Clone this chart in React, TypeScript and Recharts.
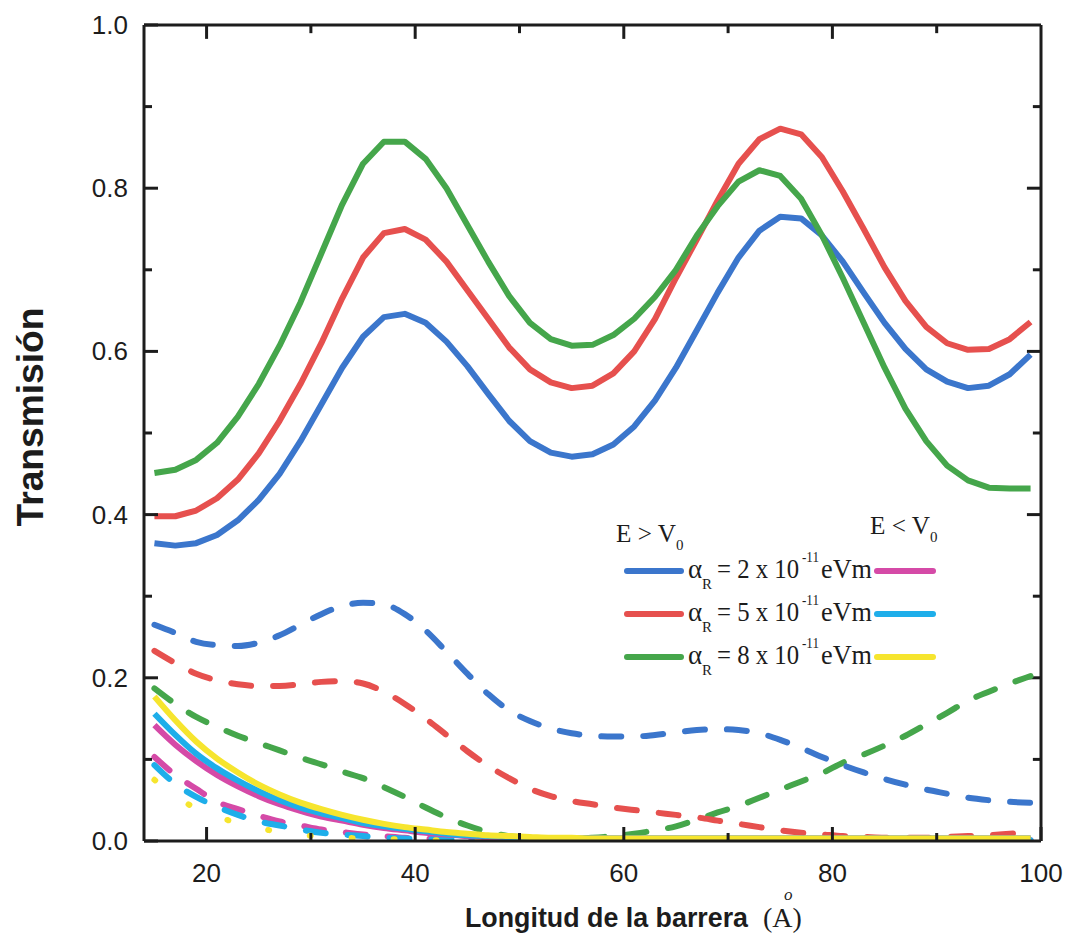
import React from "react";
import { LineChart, Line, XAxis, YAxis, ReferenceLine } from "recharts";

// barrier length (Å)
const lengths = [
  15, 17, 19, 21, 23, 25, 27, 29, 31, 33, 35, 37, 39, 41, 43, 45, 47, 49, 51, 53, 55, 57,
  59, 61, 63, 65, 67, 69, 71, 73, 75, 77, 79, 81, 83, 85, 87, 89, 91, 93, 95, 97, 99,
];

// E > V0, solid
const above2 = [
  0.365, 0.362, 0.365, 0.375, 0.393, 0.418, 0.45, 0.49, 0.535, 0.58, 0.618, 0.642, 0.646,
  0.635, 0.612, 0.582, 0.548, 0.515, 0.49, 0.476, 0.471, 0.474, 0.486, 0.508, 0.54, 0.58,
  0.626, 0.672, 0.715, 0.748, 0.765, 0.763, 0.742, 0.71, 0.672, 0.635, 0.603, 0.578, 0.563,
  0.555, 0.558, 0.572, 0.596,
];
const above5 = [
  0.398, 0.398, 0.405, 0.42, 0.443, 0.475, 0.515, 0.56, 0.61, 0.665, 0.715, 0.745, 0.75,
  0.737, 0.71, 0.675, 0.64, 0.605, 0.578, 0.562, 0.555, 0.558, 0.573, 0.6, 0.64, 0.69,
  0.737, 0.785, 0.83, 0.86, 0.873, 0.866, 0.838, 0.796, 0.75, 0.703, 0.662, 0.63, 0.61,
  0.602, 0.603, 0.615, 0.636,
];
const above8 = [
  0.451, 0.455, 0.467, 0.488, 0.52, 0.56, 0.607, 0.66, 0.72, 0.78, 0.83, 0.857, 0.857,
  0.836, 0.8, 0.755, 0.71, 0.668, 0.635, 0.615, 0.607, 0.608, 0.62, 0.64, 0.667, 0.7,
  0.742, 0.778, 0.808, 0.822, 0.815, 0.787, 0.742, 0.69, 0.635, 0.58, 0.53, 0.49, 0.46,
  0.442, 0.433, 0.432, 0.432,
];

// E > V0, dashed
const above2d = [
  0.265, 0.255, 0.244, 0.24, 0.239, 0.243, 0.252, 0.265, 0.278, 0.288, 0.292, 0.29, 0.278,
  0.258, 0.232, 0.205, 0.18, 0.16, 0.147, 0.138, 0.132, 0.129, 0.128, 0.128, 0.13, 0.133,
  0.136, 0.137, 0.136, 0.132, 0.124, 0.114, 0.103, 0.093, 0.084, 0.076, 0.069, 0.063,
  0.058, 0.053, 0.05, 0.048, 0.047,
];
const above5d = [
  0.233, 0.218, 0.205, 0.197, 0.192, 0.19, 0.19, 0.192, 0.195, 0.196, 0.193, 0.183, 0.168,
  0.15, 0.13, 0.11, 0.092, 0.077, 0.064, 0.055, 0.049, 0.045, 0.041, 0.038, 0.035, 0.032,
  0.029, 0.025, 0.021, 0.017, 0.013, 0.01, 0.008, 0.006, 0.005, 0.004, 0.004, 0.004, 0.005,
  0.006, 0.007, 0.009, 0.011,
];
const above8d = [
  0.187, 0.168, 0.152, 0.14, 0.129, 0.12, 0.111, 0.102, 0.094, 0.085, 0.077, 0.066, 0.054,
  0.041, 0.029, 0.019, 0.011, 0.006, 0.004, 0.003, 0.003, 0.004, 0.006, 0.009, 0.013, 0.018,
  0.026, 0.035, 0.043, 0.053, 0.063, 0.073, 0.083, 0.096, 0.106, 0.117, 0.129, 0.143, 0.157,
  0.172, 0.183, 0.193, 0.202,
];

// E < V0, solid
const below2 = [
  0.142, 0.118, 0.098, 0.081, 0.067, 0.055, 0.045, 0.037, 0.03, 0.025, 0.02, 0.016, 0.013,
  0.01, 0.008, 0.006, 0.005, 0.004, 0.003, 0.003, 0.003, 0.003, 0.003, 0.003, 0.003, 0.003,
  0.003, 0.003, 0.003, 0.003, 0.003, 0.003, 0.003, 0.003, 0.003, 0.003, 0.003, 0.003, 0.003,
  0.003, 0.003, 0.003, 0.003,
];
const below5 = [
  0.156, 0.13, 0.107, 0.089, 0.074, 0.061, 0.05, 0.041, 0.034, 0.028, 0.022, 0.018, 0.015,
  0.012, 0.009, 0.007, 0.006, 0.005, 0.004, 0.003, 0.003, 0.003, 0.003, 0.003, 0.003, 0.003,
  0.003, 0.003, 0.003, 0.003, 0.003, 0.003, 0.003, 0.003, 0.003, 0.003, 0.003, 0.003, 0.003,
  0.003, 0.003, 0.003, 0.003,
];
const below8 = [
  0.177, 0.148, 0.122, 0.101, 0.084, 0.069, 0.057, 0.047, 0.039, 0.032, 0.026, 0.021, 0.017,
  0.014, 0.011, 0.009, 0.007, 0.006, 0.005, 0.004, 0.004, 0.003, 0.003, 0.003, 0.003, 0.003,
  0.003, 0.003, 0.003, 0.003, 0.003, 0.003, 0.003, 0.003, 0.003, 0.003, 0.003, 0.003, 0.003,
  0.003, 0.003, 0.003, 0.003,
];

// E < V0, dashed
const below2d = [
  0.103, 0.081, 0.064, 0.048, 0.039, 0.031, 0.024, 0.019, 0.014, 0.011, 0.008, 0.006, 0.004,
  0.003, 0.002, 0.002, 0.001, 0.001, 0.001, 0.001, 0.001, 0.001, 0.001, 0.001, 0.001, 0.001,
  0.001, 0.001, 0.001, 0.001, 0.001, 0.001, 0.001, 0.001, 0.001, 0.001, 0.001, 0.001, 0.001,
  0.001, 0.001, 0.001, 0.001,
];
const below5d = [
  0.093, 0.07, 0.054, 0.042, 0.032, 0.024, 0.019, 0.014, 0.01, 0.008, 0.006, 0.004, 0.003,
  0.002, 0.002, 0.001, 0.001, 0.001, 0.001, 0.001, 0.001, 0.001, 0.001, 0.001, 0.001, 0.001,
  0.001, 0.001, 0.001, 0.001, 0.001, 0.001, 0.001, 0.001, 0.001, 0.001, 0.001, 0.001, 0.001,
  0.001, 0.001, 0.001, 0.001,
];
const below8d = [
  0.075, 0.055, 0.04, 0.03, 0.022, 0.016, 0.011, 0.008, 0.005, 0.004, 0.003, 0.002, 0.002,
  0.001, 0.001, 0.001, 0.001, 0.001, 0.001, 0.001, 0.001, 0.001, 0.001, 0.001, 0.001, 0.001,
  0.001, 0.001, 0.001, 0.001, 0.001, 0.001, 0.001, 0.001, 0.001, 0.001, 0.001, 0.001, 0.001,
  0.001, 0.001, 0.001, 0.001,
];

const xTicks = [20, 30, 40, 50, 60, 70, 80, 90, 100];
const yTicks = [0, 0.1, 0.2, 0.3, 0.4, 0.5, 0.6, 0.7, 0.8, 0.9, 1.0];
const X_MIN = 14;
const X_MAX = 100;

const BLUE = "#3b76cc";
const RED = "#e6504e";
const GREEN = "#45a64b";
const MAGENTA = "#d54aa7";
const CYAN = "#1eaeea";
const YELLOW = "#f6e52e";
const INK = "#1c1c1c";

const SANS = "'Liberation Sans', Arial, sans-serif";
const SERIF = "'Liberation Serif', 'Times New Roman', serif";

const rows = lengths.map((x, i) => ({
  x,
  a2: above2[i],
  a5: above5[i],
  a8: above8[i],
  a2d: above2d[i],
  a5d: above5d[i],
  a8d: above8d[i],
  b2: below2[i],
  b5: below5[i],
  b8: below8[i],
  b2d: below2d[i],
  b5d: below5d[i],
  b8d: below8d[i],
}));

const isMajorX = (v: number) => v % 20 === 0;
const isMajorY = (v: number) => Math.round(v * 10) % 2 === 0;

function BottomTick(props: any) {
  const { x, y, payload } = props;
  const len = isMajorX(payload.value) ? 14 : 8;
  return (
    <g>
      <line x1={x} y1={y} x2={x} y2={y - len} stroke={INK} strokeWidth={3} />
      {isMajorX(payload.value) && (
        <text x={x} y={y + 41} textAnchor="middle" fontFamily={SANS} fontSize={26} fill={INK}>
          {payload.value}
        </text>
      )}
    </g>
  );
}

function LeftTick(props: any) {
  const { x, y, payload } = props;
  const len = isMajorY(payload.value) ? 14 : 8;
  return (
    <g>
      <line x1={x} y1={y} x2={x + len} y2={y} stroke={INK} strokeWidth={3} />
      {isMajorY(payload.value) && (
        <text x={x - 16} y={y + 9} textAnchor="end" fontFamily={SANS} fontSize={26} fill={INK}>
          {Number(payload.value).toFixed(1)}
        </text>
      )}
    </g>
  );
}

const axisLine = { stroke: INK, strokeWidth: 3 };

// inward ticks on the top and right edges, in data units (plot is ~816px tall, ~10.4px per Å)
const topTicks = xTicks.filter((v) => v < X_MAX).map((v) => ({ v, d: isMajorX(v) ? 0.017 : 0.01 }));
const rightTicks = yTicks.filter((v) => v > 0 && v < 1).map((v) => ({ v, d: isMajorY(v) ? 1.35 : 0.78 }));

function LegendBlock() {
  const items = [
    { n: "2", left: BLUE, right: MAGENTA, y: 571 },
    { n: "5", left: RED, right: CYAN, y: 614 },
    { n: "8", left: GREEN, right: YELLOW, y: 657 },
  ];
  return (
    <g fontFamily={SERIF} fill={INK}>
      <text x={616} y={542} fontSize={26} textLength={60} lengthAdjust="spacingAndGlyphs">
        E {">"} V
      </text>
      <text x={676} y={550} fontSize={15}>0</text>
      <text x={870} y={534} fontSize={26} textLength={60} lengthAdjust="spacingAndGlyphs">
        E {"<"} V
      </text>
      <text x={930} y={542} fontSize={15}>0</text>
      {items.map((it) => (
        <g key={it.n}>
          <line x1={627} y1={it.y} x2={681} y2={it.y} stroke={it.left} strokeWidth={6} strokeLinecap="round" />
          <line x1={877} y1={it.y} x2={933} y2={it.y} stroke={it.right} strokeWidth={6} strokeLinecap="round" />
          <text x={688} y={it.y + 7} fontSize={27}>α</text>
          <text x={702} y={it.y + 18} fontSize={15}>R</text>
          <text x={717} y={it.y + 7} fontSize={27} textLength={82} lengthAdjust="spacingAndGlyphs">
            = {it.n} x 10
          </text>
          <text x={802} y={it.y - 9} fontSize={14} textLength={17} lengthAdjust="spacingAndGlyphs">
            -11
          </text>
          <text x={821} y={it.y + 7} fontSize={27} textLength={51} lengthAdjust="spacingAndGlyphs">
            eVm
          </text>
        </g>
      ))}
    </g>
  );
}

function Titles() {
  return (
    <g fill={INK}>
      <text
        transform="translate(43 417) rotate(-90)"
        textAnchor="middle"
        fontFamily={SANS}
        fontWeight="bold"
        fontSize={37}
        textLength={219}
        lengthAdjust="spacingAndGlyphs"
      >
        Transmisión
      </text>
      <text x={465} y={927} fontFamily={SANS} fontWeight="bold" fontSize={28} textLength={283} lengthAdjust="spacingAndGlyphs">
        Longitud de la barrera
      </text>
      <text x={763} y={927} fontFamily={SERIF} fontSize={28}>
        (A)
      </text>
      <text x={784} y={900} fontFamily={SERIF} fontStyle="italic" fontSize={17}>
        o
      </text>
    </g>
  );
}

const dash = "20 22";

export default function App() {
  return (
    <div style={{ position: "absolute", left: 0, top: 0, width: 1070, height: 936, background: "#fff" }}>
      <LineChart width={1070} height={936} data={rows} margin={{ top: 25, right: 29, bottom: 0, left: 0 }}>
        <XAxis
          dataKey="x"
          type="number"
          domain={[X_MIN, X_MAX]}
          ticks={xTicks}
          interval={0}
          height={95}
          tickSize={0}
          tickMargin={0}
          tickLine={false}
          axisLine={axisLine}
          tick={<BottomTick />}
          allowDataOverflow
        />
        <YAxis
          type="number"
          domain={[0, 1]}
          ticks={yTicks}
          interval={0}
          width={144}
          tickSize={0}
          tickMargin={0}
          tickLine={false}
          axisLine={axisLine}
          tick={<LeftTick />}
          allowDataOverflow
        />

        {/* closed frame: top and right edges with their ticks */}
        <ReferenceLine y={1} stroke={INK} strokeWidth={3} ifOverflow="visible" />
        <ReferenceLine x={X_MAX} stroke={INK} strokeWidth={3} ifOverflow="visible" />
        {topTicks.map((t) => (
          <ReferenceLine
            key={`t${t.v}`}
            segment={[{ x: t.v, y: 1 }, { x: t.v, y: 1 - t.d }]}
            stroke={INK}
            strokeWidth={3}
            ifOverflow="visible"
          />
        ))}
        {rightTicks.map((t) => (
          <ReferenceLine
            key={`r${t.v}`}
            segment={[{ x: X_MAX, y: t.v }, { x: X_MAX - t.d, y: t.v }]}
            stroke={INK}
            strokeWidth={3}
            ifOverflow="visible"
          />
        ))}

        <Line dataKey="a8d" stroke={GREEN} strokeWidth={6} strokeDasharray={dash} strokeLinecap="round" dot={false} isAnimationActive={false} type="monotone" />
        <Line dataKey="a5d" stroke={RED} strokeWidth={6} strokeDasharray={dash} strokeLinecap="round" dot={false} isAnimationActive={false} type="monotone" />
        <Line dataKey="a2d" stroke={BLUE} strokeWidth={6} strokeDasharray={dash} strokeLinecap="round" dot={false} isAnimationActive={false} type="monotone" />

        <Line dataKey="a2" stroke={BLUE} strokeWidth={6} strokeLinejoin="round" dot={false} isAnimationActive={false} type="linear" />
        <Line dataKey="a5" stroke={RED} strokeWidth={6} strokeLinejoin="round" dot={false} isAnimationActive={false} type="linear" />
        <Line dataKey="a8" stroke={GREEN} strokeWidth={6} strokeLinejoin="round" dot={false} isAnimationActive={false} type="linear" />

        <Line dataKey="b2d" stroke={MAGENTA} strokeWidth={6} strokeDasharray={dash} strokeLinecap="round" dot={false} isAnimationActive={false} type="monotone" />
        <Line dataKey="b5d" stroke={CYAN} strokeWidth={6} strokeDasharray={dash} strokeLinecap="round" dot={false} isAnimationActive={false} type="monotone" />
        <Line dataKey="b8d" stroke={YELLOW} strokeWidth={6} strokeDasharray="1 41" strokeLinecap="round" dot={false} isAnimationActive={false} type="monotone" />

        <Line dataKey="b2" stroke={MAGENTA} strokeWidth={6} strokeLinejoin="round" dot={false} isAnimationActive={false} type="monotone" />
        <Line dataKey="b5" stroke={CYAN} strokeWidth={6} strokeLinejoin="round" dot={false} isAnimationActive={false} type="monotone" />
        <Line dataKey="b8" stroke={YELLOW} strokeWidth={6} strokeLinejoin="round" dot={false} isAnimationActive={false} type="monotone" />
      </LineChart>
      <svg width={1070} height={936} style={{ position: "absolute", left: 0, top: 0, pointerEvents: "none" }}>
        <LegendBlock />
        <Titles />
      </svg>
    </div>
  );
}
